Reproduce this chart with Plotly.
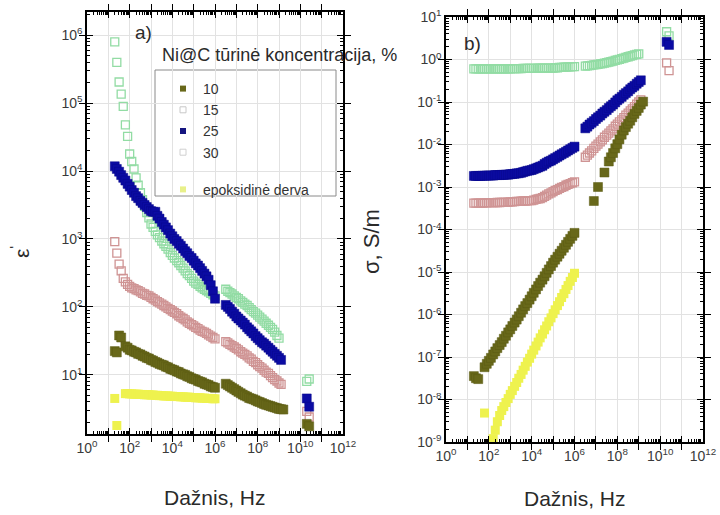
import plotly.graph_objects as go

# ---------------- data ----------------
# measurement frequencies, Hz
freq_low = [20, 25, 32, 40, 50, 63, 80,
            100, 125, 160, 200, 250, 320, 400, 500, 630, 800,
            1e3, 1.25e3, 1.6e3, 2e3, 2.5e3, 3.2e3, 4e3, 5e3, 6.3e3, 8e3,
            1e4, 1.25e4, 1.6e4, 2e4, 2.5e4, 3.2e4, 4e4, 5e4, 6.3e4, 8e4,
            1e5, 1.25e5, 1.6e5, 2e5, 2.5e5, 3.2e5, 4e5, 5e5, 6.3e5, 8e5, 1e6]
freq_high = [3.2e6, 4e6, 5e6, 6.3e6, 8e6,
             1e7, 1.25e7, 1.6e7, 2e7, 2.5e7, 3.2e7, 4e7, 5e7, 6.3e7, 8e7,
             1e8, 1.25e8, 1.6e8, 2e8, 2.5e8, 3.2e8, 4e8, 5e8, 6.3e8, 8e8,
             1e9, 1.25e9, 1.6e9]
freq_mw = [2.0e10, 2.6e10]

series_names = ["10", "15", "25", "30", "epoksidinė derva"]

# ---- panel a) : epsilon' ----
eps_10_low = [22.4, 21.4, 38.0, 35.5, None, 26.3, 25.1, 23.4, 22.9, 21.9,
              21.4, 20.4, 20.0, 19.1, 18.6, 17.8, 17.4, 16.6, 16.2, 15.5,
              15.1, 14.5, 14.1, 13.8, 13.2, 12.9, 12.3, 12.0, 11.7, 11.2,
              11.0, 10.5, 10.2, 10.0, 9.55, 9.33, 8.91, 8.71, 8.51, 8.13,
              7.94, 7.76, 7.41, 7.24, 7.08, 6.76, 6.61, 6.46]
eps_10_high = [7.41, 7.08, 6.76, 6.46, 6.17, 5.89, 5.62, 5.37, 5.13, 4.95,
               4.79, 4.57, 4.47, 4.37, 4.22, 4.07, 3.98, 3.85, 3.72, 3.63,
               3.55, 3.47, 3.39, 3.31, 3.24, 3.16, 3.13, 3.09]
eps_10_mw = [1.9, 1.75]

eps_15_low = [912, 617, 427, 339, 263, 234, 214, 200, 191, 186,
              178, 174, 166, 158, 155, 148, 145, 138, 132, 126,
              120, 115, 110, 105, 100, 95.5, 91.2, 87.1, 83.2, 79.4,
              74.1, 70.8, 67.6, 64.6, 60.3, 57.5, 55.0, 52.5, 50.1, 47.9,
              45.7, 43.7, 42.7, 40.7, 38.9, 37.2, 35.5, 33.9]
eps_15_high = [30.9, 29.5, 28.2, 26.9, 25.7, 24.5, 23.4, 21.9, 20.9, 20.0,
               19.1, 17.8, 17.0, 15.8, 15.1, 14.1, 13.2, 12.6, 11.7, 11.0,
               10.5, 9.77, 9.12, 8.51, 8.13, 7.59, 7.24, None]
eps_15_mw = [2.9, 2.4]

eps_25_low = [11750, 10720, 9770, 8710, 7940, 7240, 6460, 5890, 5250, 4790,
              4270, 3980, 3630, 3390, 3160, 2950, 2750, 2570, 2510, 2510,
              2190, 1995, 1778, 1622, 1479, 1349, 1202, 1096, 1000, 933,
              851, 794, 724, 661, 617, 562, 525, 479, 437, 407,
              372, 339, 309, 282, 251, 209, 170, 132]
eps_25_high = [107, 100, 93.3, 85.1, 79.4, 72.4, 67.6, 63.1, 58.9, 55.0,
               50.1, 46.8, 43.7, 40.7, 37.2, 34.7, 32.4, 30.2, 28.8, 26.9,
               25.1, 23.4, 21.9, 20.4, 19.1, 17.8, 16.6, None]
eps_25_mw = [4.5, 3.4]

eps_30_low = [794000, 398000, 204000, 135000, 89100, 47900, 32400, 17800, 13800, 10700,
              7940, 6170, 4790, 3800, 3020, 2450, 2040, 1660, 1480, 1290,
              1150, 1047, 933, 851, 776, 708, 631, 575, 525, 479,
              447, 407, 372, 339, 309, 288, 263, 240, 224, 214,
              200, 191, 182, 174, 166, 158, 151, 145]
eps_30_high = [182, 170, 162, 155, 145, 138, 132, 123, 117, 110,
               105, 97.7, 91.2, 85.1, 81.3, 75.9, 70.8, 66.1, 61.7, 57.5,
               53.7, 50.1, 46.8, 42.7, 38.0, 34.7, None, None]
eps_30_mw = [8.0, 8.7]

eps_ep_low = [4.5, 1.8, None, None, None, 5.3, 5.3, 5.25, 5.25, 5.2,
              5.2, 5.2, 5.15, 5.15, 5.1, 5.1, 5.1, 5.05, 5.05, 5.0,
              5.0, 4.95, 4.95, 4.9, 4.9, 4.9, 4.85, 4.85, 4.8, 4.8,
              4.8, 4.75, 4.75, 4.7, 4.7, 4.7, 4.65, 4.65, 4.6, 4.6,
              4.6, 4.55, 4.55, 4.5, 4.5, 4.5, 4.45, 4.45]

# ---- panel b) : sigma, S/m ----
sig_10_low = [3.55e-8, 3.16e-8, 3.02e-8, None, None, 5.75e-8, 6.92e-8, 8.13e-8, 9.55e-8, 1.15e-7,
              1.35e-7, 1.62e-7, 1.91e-7, 2.24e-7, 2.69e-7, 3.16e-7, 3.80e-7, 4.47e-7, 5.37e-7, 6.46e-7,
              7.59e-7, 9.12e-7, 1.10e-6, 1.32e-6, 1.58e-6, 1.86e-6, 2.24e-6, 2.69e-6, 3.24e-6, 3.89e-6,
              4.68e-6, 5.62e-6, 6.61e-6, 7.94e-6, 9.55e-6, 1.15e-5, 1.38e-5, 1.66e-5, 1.95e-5, 2.29e-5,
              2.69e-5, 3.16e-5, 3.72e-5, 4.37e-5, 5.13e-5, 6.03e-5, 7.08e-5, 8.32e-5]
sig_10_high = [None, None, None, None, 4.68e-4, None, 1.0e-3, None, None, 2.19e-3,
               None, 3.98e-3, 5.01e-3, 6.31e-3, 8.13e-3, 0.0102, 0.0132, 0.0170, 0.0214, 0.0257,
               0.0309, 0.0363, 0.0437, 0.0525, 0.0617, 0.0724, 0.0871, 0.102]
sig_10_mw = [None, None]

sig_15_low = [4.17e-4, 4.17e-4, 4.17e-4, 4.17e-4, 4.17e-4, 4.22e-4, 4.22e-4, 4.27e-4, 4.27e-4, 4.27e-4,
              4.27e-4, 4.32e-4, 4.32e-4, 4.37e-4, 4.37e-4, 4.37e-4, 4.42e-4, 4.47e-4, 4.47e-4, 4.52e-4,
              4.57e-4, 4.57e-4, 4.62e-4, 4.68e-4, 4.68e-4, 4.73e-4, 4.79e-4, 4.79e-4, 4.90e-4, 5.13e-4,
              5.25e-4, 5.37e-4, 5.62e-4, 6.03e-4, 6.46e-4, 6.92e-4, 7.24e-4, 7.76e-4, 8.32e-4, 8.71e-4,
              9.33e-4, 9.77e-4, 1.02e-3, 1.10e-3, 1.15e-3, 1.20e-3, 1.26e-3, 1.32e-3]
sig_15_high = [5.01e-3, 5.62e-3, 6.31e-3, 7.08e-3, 8.13e-3, 9.12e-3, 0.0102, 0.0115, 0.0129, 0.0148,
               0.0166, 0.0186, 0.0209, 0.0234, 0.0269, 0.0302, 0.0339, 0.0380, 0.0427, 0.0490,
               0.0550, 0.0617, 0.0692, 0.0776, 0.0891, 0.100, 0.112, None]
sig_15_mw = [0.83, 0.55]

sig_25_low = [1.82e-3, 1.82e-3, 1.82e-3, 1.82e-3, 1.84e-3, 1.84e-3, 1.86e-3, 1.86e-3, 1.86e-3, 1.86e-3,
              1.91e-3, 1.91e-3, 1.91e-3, 1.93e-3, 1.93e-3, 1.95e-3, 1.95e-3, 2.00e-3, 2.02e-3, 2.04e-3,
              2.09e-3, 2.11e-3, 2.16e-3, 2.24e-3, 2.32e-3, 2.40e-3, 2.45e-3, 2.51e-3, 2.63e-3, 2.75e-3,
              2.88e-3, 3.02e-3, 3.16e-3, 3.47e-3, 3.72e-3, 3.98e-3, 4.17e-3, 4.47e-3, 4.79e-3, 5.13e-3,
              5.50e-3, 5.89e-3, 6.31e-3, 6.76e-3, 7.24e-3, 7.76e-3, 8.32e-3, 8.91e-3]
sig_25_high = [0.0240, 0.0263, 0.0295, 0.0324, 0.0355, 0.0398, 0.0437, 0.0479, 0.0537, 0.0589,
               0.0646, 0.0724, 0.0794, 0.0871, 0.0977, 0.110, 0.120, 0.132, 0.148, 0.162,
               0.178, 0.200, 0.219, 0.240, 0.269, 0.295, 0.324, None]
sig_25_mw = [2.6, 2.2]

sig_30_low = [0.60, 0.60, 0.60, 0.60, 0.60, 0.60, 0.60, 0.60, 0.60, 0.60,
              0.60, 0.60, 0.60, 0.60, 0.60, 0.60, 0.60, 0.60, 0.61, 0.61,
              0.61, 0.61, 0.61, 0.62, 0.62, 0.62, 0.62, 0.62, 0.62, 0.62,
              0.63, 0.63, 0.63, 0.63, 0.63, 0.63, 0.63, 0.63, 0.64, 0.64,
              0.65, 0.65, 0.66, 0.66, 0.67, 0.67, 0.68, 0.68]
sig_30_high = [0.70, 0.71, 0.72, 0.73, 0.75, 0.76, 0.77, 0.79, 0.80, 0.82,
               0.84, 0.87, 0.89, 0.92, 0.95, 0.98, 1.01, 1.05, 1.08, 1.12,
               1.16, 1.20, 1.24, 1.28, 1.32, 1.36, None, None]
sig_30_mw = [4.5, 3.6]

sig_ep_low = [None, None, None, None, None, 4.8e-9, None, None, None, 1.2e-9,
              1.9e-9, 3.0e-9, 4.2e-9, 5.5e-9, 6.8e-9, 8.5e-9, 1.05e-8, 1.32e-8, 1.62e-8, 2.04e-8,
              2.51e-8, 3.16e-8, 3.89e-8, 4.90e-8, 6.03e-8, 7.59e-8, 9.33e-8, 1.17e-7, 1.45e-7, 1.82e-7,
              2.24e-7, 2.82e-7, 3.47e-7, 4.37e-7, 5.37e-7, 6.76e-7, 8.32e-7, 1.05e-6, 1.29e-6, 1.62e-6,
              2.00e-6, 2.51e-6, 3.09e-6, 3.89e-6, 4.79e-6, 6.03e-6, 7.41e-6, 9.33e-6]

x_ticks = [10 ** k for k in range(0, 13)]
x_ticktext = ["10<sup>%d</sup>" % k if k % 2 == 0 else "" for k in range(0, 13)]
ya_ticks = [10 ** k for k in range(0, 7)]
ya_ticktext = ["10<sup>%d</sup>" % k for k in range(0, 7)]
yb_ticks = [10.0 ** k for k in range(-9, 2)]
yb_ticktext = ["10<sup>%d</sup>" % k for k in range(-9, 2)]

# ---------------- styles ----------------
C10, C15, C25, C30, CEP = "#68681a", "#cf9494", "#0b0ba3", "#92dca4", "#eef24e"
styles = {
    "10": dict(symbol="square", color=C10, size=9, line=dict(color="#5a5a12", width=0.5)),
    "15": dict(symbol="square-open", color=C15, size=8, line=dict(width=1.3)),
    "25": dict(symbol="square", color=C25, size=9, line=dict(color="#08088a", width=0.5)),
    "30": dict(symbol="square-open", color=C30, size=8, line=dict(width=1.3)),
    "epoksidinė derva": dict(symbol="square", color=CEP, size=9, line=dict(width=0)),
}
legend_styles = {
    "10": dict(symbol="square", color=C10, size=6),
    "15": dict(symbol="square-open", color="#c8c8c8", size=6, line=dict(width=1)),
    "25": dict(symbol="square", color="#151580", size=6),
    "30": dict(symbol="square-open", color="#d0d0d0", size=6, line=dict(width=1)),
    "epoksidinė derva": dict(symbol="square", color="#e8f08a", size=6),
}
legend_order = ["10", "15", "25", "30", "epoksidinė derva"]

fig = go.Figure()

panel_a = {
    "10": eps_10_low + eps_10_high + eps_10_mw,
    "15": eps_15_low + eps_15_high + eps_15_mw,
    "25": eps_25_low + eps_25_high + eps_25_mw,
    "30": eps_30_low + eps_30_high + eps_30_mw,
    "epoksidinė derva": eps_ep_low,
}
panel_b = {
    "10": sig_10_low + sig_10_high + sig_10_mw,
    "15": sig_15_low + sig_15_high + sig_15_mw,
    "25": sig_25_low + sig_25_high + sig_25_mw,
    "30": sig_30_low + sig_30_high + sig_30_mw,
    "epoksidinė derva": sig_ep_low,
}
draw_order = ["epoksidinė derva", "30", "15", "10", "25"]
f_all = freq_low + freq_high + freq_mw

for name in draw_order:
    ya = panel_a[name]
    fig.add_trace(go.Scatter(
        x=f_all[:len(ya)], y=ya, mode="markers", name=name,
        marker=styles[name], xaxis="x", yaxis="y", showlegend=False))
for name in draw_order:
    yb = panel_b[name]
    fig.add_trace(go.Scatter(
        x=f_all[:len(yb)], y=yb, mode="markers", name=name,
        marker=styles[name], xaxis="x2", yaxis="y2", showlegend=False))
# legend entries (legend-only, small faded symbols like in the original)
for i, name in enumerate(legend_order):
    fig.add_trace(go.Scatter(
        x=[None], y=[None], mode="markers", name=name, marker=legend_styles[name],
        xaxis="x", yaxis="y", showlegend=True, legendrank=i + 1,
        legendgroup="g2" if name == "epoksidinė derva" else "g1"))
# carriers for the minor-tick overlay axes
for xa, yax in [("x3", "y"), ("x", "y3"), ("x4", "y2"), ("x2", "y4")]:
    fig.add_trace(go.Scatter(x=[None], y=[None], mode="markers", xaxis=xa, yaxis=yax,
                             showlegend=False, hoverinfo="skip"))

W, H = 720, 515
def px_x(p):
    return p / W
def px_y(p):
    return 1 - p / H

tickfont = dict(family="Arial, Liberation Sans, sans-serif", size=14, color="#3a3a3a")
axis_common = dict(type="log", showline=True, linecolor="black", linewidth=1.5, mirror="allticks",
                   ticks="inside", ticklen=6, tickwidth=1.2, tickcolor="black",
                   showgrid=True, gridcolor="#e2e2e2", gridwidth=1, zeroline=False,
                   tickfont=tickfont, tickmode="array", automargin=False)
minor_common = dict(type="log", showline=False, mirror="allticks", ticks="inside", ticklen=3,
                    tickwidth=1, tickcolor="black", showgrid=False, zeroline=False,
                    showticklabels=False, tickmode="array", automargin=False)

minor_x = [m * 10 ** k for k in range(0, 12) for m in range(2, 10)]
minor_ya = [m * 10 ** k for k in range(0, 7) for m in range(2, 10)]
minor_yb = [m * 10.0 ** k for k in range(-9, 1) for m in range(2, 10)]

fig.update_layout(
    width=W, height=H, margin=dict(l=0, r=0, t=0, b=0),
    paper_bgcolor="white", plot_bgcolor="white",
    font=dict(family="Arial, Liberation Sans, sans-serif", color="#222"),
    xaxis=dict(axis_common, domain=[px_x(87), px_x(343)], range=[0, 12],
               tickvals=x_ticks, ticktext=x_ticktext, anchor="y"),
    yaxis=dict(axis_common, domain=[px_y(434), px_y(12)], range=[0.13, 6.34],
               tickvals=ya_ticks, ticktext=ya_ticktext, anchor="x"),
    xaxis2=dict(axis_common, domain=[px_x(446), px_x(703)], range=[0, 12],
                tickvals=x_ticks, ticktext=x_ticktext, anchor="y2"),
    yaxis2=dict(axis_common, domain=[px_y(442), px_y(17)], range=[-9, 1],
                tickvals=yb_ticks, ticktext=yb_ticktext, anchor="x2"),
    xaxis3=dict(minor_common, overlaying="x", anchor="y", side="bottom", range=[0, 12],
                tickvals=minor_x),
    yaxis3=dict(minor_common, overlaying="y", anchor="x", side="left", range=[0.13, 6.34],
                tickvals=minor_ya),
    xaxis4=dict(minor_common, overlaying="x2", anchor="y2", side="bottom", range=[0, 12],
                tickvals=minor_x),
    yaxis4=dict(minor_common, overlaying="y2", anchor="x2", side="left", range=[-9, 1],
                tickvals=minor_yb),
    legend=dict(x=px_x(163), y=px_y(73), xanchor="left", yanchor="top",
                bgcolor="rgba(0,0,0,0)", borderwidth=0,
                font=dict(size=14, color="#333"), traceorder="grouped",
                tracegroupgap=16, itemwidth=30),
    showlegend=True,
    shapes=[dict(type="rect", xref="paper", yref="paper",
                 x0=px_x(155), x1=px_x(336), y0=px_y(196), y1=px_y(70),
                 line=dict(color="#8a8a8a", width=1), fillcolor="white", layer="below")],
)

ann_font = dict(family="Arial, Liberation Sans, sans-serif", color="#2a2a2a")
annotations = [
    dict(text="Ni@C tūrinė koncentracija, %", x=px_x(160), y=px_y(55), xanchor="left",
         yanchor="middle", font=dict(ann_font, size=18)),
    dict(text="a)", x=px_x(143), y=px_y(32), xanchor="center", yanchor="middle",
         font=dict(ann_font, size=19)),
    dict(text="b)", x=px_x(472), y=px_y(44), xanchor="center", yanchor="middle",
         font=dict(ann_font, size=19)),
    dict(text="Dažnis, Hz", x=px_x(215), y=px_y(497), xanchor="center", yanchor="middle",
         font=dict(ann_font, size=21)),
    dict(text="Dažnis, Hz", x=px_x(575), y=px_y(498), xanchor="center", yanchor="middle",
         font=dict(ann_font, size=21)),
    dict(text="ε<sup>'</sup>", x=px_x(20), y=px_y(252), xanchor="center", yanchor="middle",
         textangle=-90, font=dict(ann_font, size=21)),
    dict(text="σ, S/m", x=px_x(372), y=px_y(242), xanchor="center", yanchor="middle",
         textangle=-90, font=dict(ann_font, size=22)),
]
for a in annotations:
    a.update(xref="paper", yref="paper", showarrow=False)
fig.update_layout(annotations=annotations)

fig.write_html("out.html")
